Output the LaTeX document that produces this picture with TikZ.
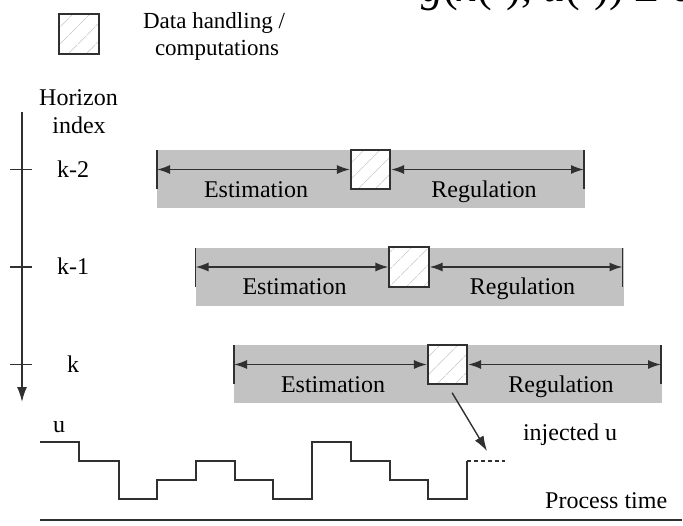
\documentclass[tikz,border=0pt]{standalone}
\usepackage{fontspec}
\setmainfont{Liberation Serif}
\usetikzlibrary{arrows.meta,patterns.meta}
\definecolor{boxgray}{HTML}{C2C2C2}
\definecolor{ink}{HTML}{303030}
\definecolor{hatch}{HTML}{D0D0D0}
\begin{document}
\begin{tikzpicture}[x=1pt,y=-1pt,
  lw/.style={line width=1.6pt, draw=ink},
  sq/.style={draw=ink, line width=1.6pt, minimum size=39.5pt, inner sep=0pt,
    preaction={fill=white},
    pattern={Lines[angle=45,distance=13pt,line width=0.8pt]}, pattern color=hatch},
  dim/.style={lw, {Latex[length=13pt,width=9pt]}-{Latex[length=13pt,width=9pt]}},
  tip/.style={lw, -{Latex[length=15pt,width=10pt]}},
  lbl/.style={font=\fontsize{24}{28}\selectfont, inner sep=0pt, text=black},
  leglbl/.style={font=\fontsize{23}{27}\selectfont, inner sep=0pt, text=black},
]
\fill[white] (0,0) rectangle (683,525);
\useasboundingbox (0,0) rectangle (683,525);

% clipped formula at the top
\node[font=\fontsize{44}{50}\selectfont, inner sep=0pt, text=black, anchor=base west] (formula) at (421,1)
  {\textit{g}(\textit{x}(·), \textit{u}(·)) ≤ 0};

% legend
\node[sq] (leg) at (79,34) {};
\node[leglbl, anchor=base] (legtxt1) at (214,28) {Data handling /};
\node[leglbl, anchor=base] (legtxt2) at (217,55) {computations};

% horizon index axis
\coordinate (vtop) at (22,112);
\coordinate (vbot) at (22,402);
\draw[tip] (vtop) -- (vbot);
\node[lbl, anchor=base] (hz1) at (78.5,105) {Horizon};
\node[lbl, anchor=base] (hz2) at (79,133) {index};
\foreach \n/\y in {a/169.5, b/267, c/364.5}{
  \coordinate (tl\n) at (10,\y);
  \coordinate (tr\n) at (32,\y);
  \draw[lw] (tl\n) -- (tr\n);
}
\node[lbl, anchor=base west] (km2) at (57,177) {k-2};
\node[lbl, anchor=base west] (km1) at (57,274) {k-1};
\node[lbl, anchor=base west] (k0) at (67,372) {k};

% horizon rows
\foreach \i/\dx/\dy in {1/0/0, 2/38.5/97.5, 3/77/195}{
  \fill[boxgray] (157+\dx,150+\dy) rectangle (585+\dx,208+\dy);
  \coordinate (lt\i) at (157+\dx,150+\dy);
  \coordinate (lb\i) at (157+\dx,189+\dy);
  \coordinate (lm\i) at (157+\dx,169.5+\dy);
  \coordinate (rt\i) at (584+\dx,150+\dy);
  \coordinate (rb\i) at (584+\dx,189+\dy);
  \coordinate (rm\i) at (584+\dx,169.5+\dy);
  \draw[lw] (lt\i) -- (lb\i);
  \draw[lw] (rt\i) -- (rb\i);
  \node[sq] (sq\i) at (370.5+\dx,169.5+\dy) {};
  \draw[dim] (lm\i) -- (sq\i.west);
  \draw[dim] (sq\i.east) -- (rm\i);
  \node[lbl, anchor=base] (est\i) at (256+\dx,197+\dy) {Estimation};
  \node[lbl, anchor=base] (reg\i) at (484+\dx,197+\dy) {Regulation};
}

% injected input
\coordinate (inj) at (487,451);
\draw[tip, line width=1.4pt, shorten <=9pt] (sq3.south) -- (inj);
\node[lbl, anchor=base] (injtxt) at (570,440) {injected u};

% input signal
\node[lbl, anchor=base] (ulbl) at (59,432) {u};
\draw[lw] (40,442) -| (79,461) -| (119,499) -| (157,480) -| (196,461) -| (235,480)
  -| (273,499) -| (312,442) -| (351,461) -| (390,480) -| (428,499) -| (467,461);
\draw[ink, line width=1.3pt, dash pattern=on 4pt off 3pt] (467,461) -- (505,461);

% process time axis
\coordinate (ta) at (40,520);
\coordinate (tb) at (682,520);
\draw[lw] (ta) -- (tb);
\node[lbl, anchor=base west] (ptime) at (545,508) {Process time};
\end{tikzpicture}
\end{document}
